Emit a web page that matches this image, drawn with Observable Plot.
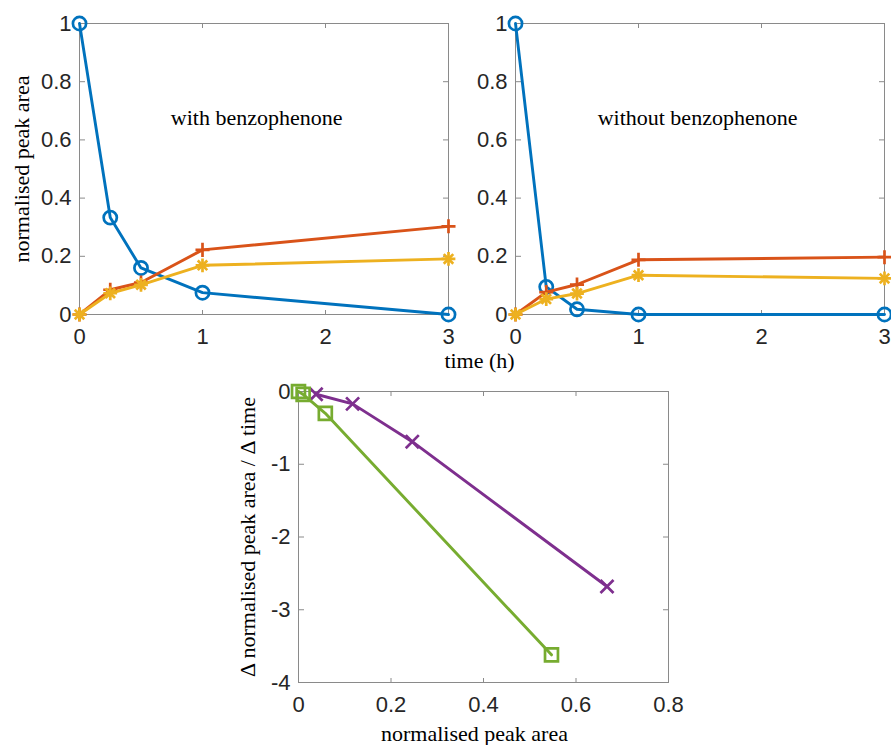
<!DOCTYPE html>
<html>
<head>
<meta charset="utf-8">
<script src="https://cdn.jsdelivr.net/npm/d3@7"></script>
<script src="https://cdn.jsdelivr.net/npm/@observablehq/plot@0.6"></script>
<style>
  html, body { margin: 0; padding: 0; background: #fff; }
  #root { position: relative; width: 891px; height: 745px; overflow: hidden; background: #fff; }
  .panel { position: absolute; }
  .panel svg { overflow: visible; }
</style>
</head>
<body>
<div id="root">
  <div class="panel" id="p1" style="left:0px;top:0px"></div>
  <div class="panel" id="p2" style="left:436px;top:0px"></div>
  <div class="panel" id="p3" style="left:219px;top:368px"></div>
</div>
<script>
// ---- data ----
const times = [0, 0.25, 0.5, 1, 3];
const withBlue = [1, 0.333, 0.16, 0.075, 0];
const withRed = [0, 0.085, 0.11, 0.222, 0.303];
const withYellow = [0, 0.073, 0.102, 0.169, 0.191];
const withoutBlue = [1, 0.095, 0.018, 0, 0];
const withoutRed = [0, 0.077, 0.103, 0.188, 0.197];
const withoutYellow = [0, 0.053, 0.072, 0.135, 0.124];

const rateAreaWith = [0.667, 0.246, 0.117, 0.038];
const rateWith = [-2.68, -0.69, -0.17, -0.038];
const rateAreaWithout = [0.547, 0.058, 0.010, 0];
const rateWithout = [-3.62, -0.30, -0.04, 0];

const timeTicks = [0, 1, 2, 3];
const areaTicks = [0, 0.2, 0.4, 0.6, 0.8, 1];
const rateXTicks = [0, 0.2, 0.4, 0.6, 0.8];
const rateYTicks = [-4, -3, -2, -1, 0];

const labelWith = "with benzophenone";
const labelWithout = "without benzophenone";
const labelTime = "time (h)";
const labelArea = "normalised peak area";
const labelRate = "Δ normalised peak area / Δ time";

// ---- styles ----
const BLUE = "#0072BD", RED = "#D95319", YELLOW = "#EDB120", PURPLE = "#7E2F8E", GREEN = "#77AC30";
const FRAME = "#8a8a8a";
const TICKTEXT = "#262626";
const SANS = "'Liberation Sans', Arial, Helvetica, sans-serif";
const SERIF = "'Liberation Serif', 'Times New Roman', serif";
const fmt = d => String(d);
const blank = () => "";

function series(xs, ys) { return xs.map((x, i) => ({x, y: ys[i]})); }

function boxAxes(xTicks, yTicks) {
  const txt = {tickSize: 0, stroke: "none", fill: TICKTEXT, fontSize: 22, fontFamily: SANS, label: null};
  const tk = {tickSize: 5, stroke: FRAME, strokeWidth: 1, tickFormat: blank, label: null};
  return [
    // labels
    Plot.axisX(xTicks, {...txt, anchor: "bottom", tickPadding: 14, tickFormat: fmt}),
    Plot.axisY(yTicks, {...txt, anchor: "left", tickPadding: 8, tickFormat: fmt}),
    // inward ticks on all four sides
    Plot.axisX(xTicks, {...tk, anchor: "top", frameAnchor: "bottom"}),
    Plot.axisX(xTicks, {...tk, anchor: "bottom", frameAnchor: "top"}),
    Plot.axisY(yTicks, {...tk, anchor: "right", frameAnchor: "left"}),
    Plot.axisY(yTicks, {...tk, anchor: "left", frameAnchor: "right"})
  ];
}

function lineMarks(data, color) {
  return Plot.line(data, {x: "x", y: "y", stroke: color, strokeWidth: 2.9});
}

function markerMarks(data, color, kind) {
  const base = {x: "x", y: "y", stroke: color, fill: "none", strokeWidth: 2.7};
  if (kind === "circle") return [Plot.dot(data, {...base, symbol: "circle", r: 6.6})];
  if (kind === "plus") return [Plot.dot(data, {...base, symbol: "plus", r: 4.6})];
  if (kind === "star") return [
    Plot.dot(data, {...base, symbol: "plus", r: 4.5}),
    Plot.dot(data, {...base, symbol: "times", r: 4.4})
  ];
  if (kind === "times") return [Plot.dot(data, {...base, symbol: "times", r: 6})];
  if (kind === "square") return [Plot.dot(data, {...base, symbol: "square", r: 7.3})];
  return [];
}

const serifText = {fontFamily: SERIF, fontSize: 22, fill: "#000", textAnchor: "middle", lineAnchor: "middle"};

function timePanel(blue, red, yellow, note, noteX, withYLabel, withXLabel, width, marginRight) {
  const b = series(times, blue), r = series(times, red), y = series(times, yellow);
  const marks = [
    Plot.frame({stroke: FRAME, strokeWidth: 1}),
    ...boxAxes(timeTicks, areaTicks),
    lineMarks(b, BLUE), ...markerMarks(b, BLUE, "circle"),
    lineMarks(r, RED), ...markerMarks(r, RED, "plus"),
    lineMarks(y, YELLOW), ...markerMarks(y, YELLOW, "star"),
    Plot.text([note], {...serifText, text: d => d, x: noteX, y: 0.677})
  ];
  if (withYLabel) marks.push(Plot.text([labelArea], {...serifText, text: d => d, frameAnchor: "left", dx: -58, rotate: -90}));
  if (withXLabel) marks.push(Plot.text([labelTime], {...serifText, text: d => d, frameAnchor: "bottom-right", dx: 31, dy: 46}));
  return Plot.plot({
    width, height: 350,
    marginLeft: 79, marginRight, marginTop: 23, marginBottom: 36,
    x: {domain: [0, 3]},
    y: {domain: [0, 1]},
    style: {background: "transparent", overflow: "visible"},
    marks
  });
}

document.getElementById("p1").appendChild(
  timePanel(withBlue, withRed, withYellow, labelWith, 1.44, true, true, 470, 22));
document.getElementById("p2").appendChild(
  timePanel(withoutBlue, withoutRed, withoutYellow, labelWithout, 1.48, false, false, 455, 7));

const pw = series(rateAreaWith, rateWith);
const pwo = series(rateAreaWithout, rateWithout);
document.getElementById("p3").appendChild(Plot.plot({
  width: 470, height: 350,
  marginLeft: 79, marginRight: 21, marginTop: 23, marginBottom: 36,
  x: {domain: [0, 0.8]},
  y: {domain: [-4, 0]},
  style: {background: "transparent", overflow: "visible"},
  marks: [
    Plot.frame({stroke: FRAME, strokeWidth: 1}),
    ...boxAxes(rateXTicks, rateYTicks),
    lineMarks(pw, PURPLE), ...markerMarks(pw, PURPLE, "times"),
    lineMarks(pwo, GREEN), ...markerMarks(pwo, GREEN, "square"),
    Plot.text([labelRate], {...serifText, text: d => d, frameAnchor: "left", dx: -51, rotate: -90}),
    Plot.text([labelArea], {...serifText, text: d => d, frameAnchor: "bottom", dx: -9, dy: 51})
  ]
}));
</script>
</body>
</html>
